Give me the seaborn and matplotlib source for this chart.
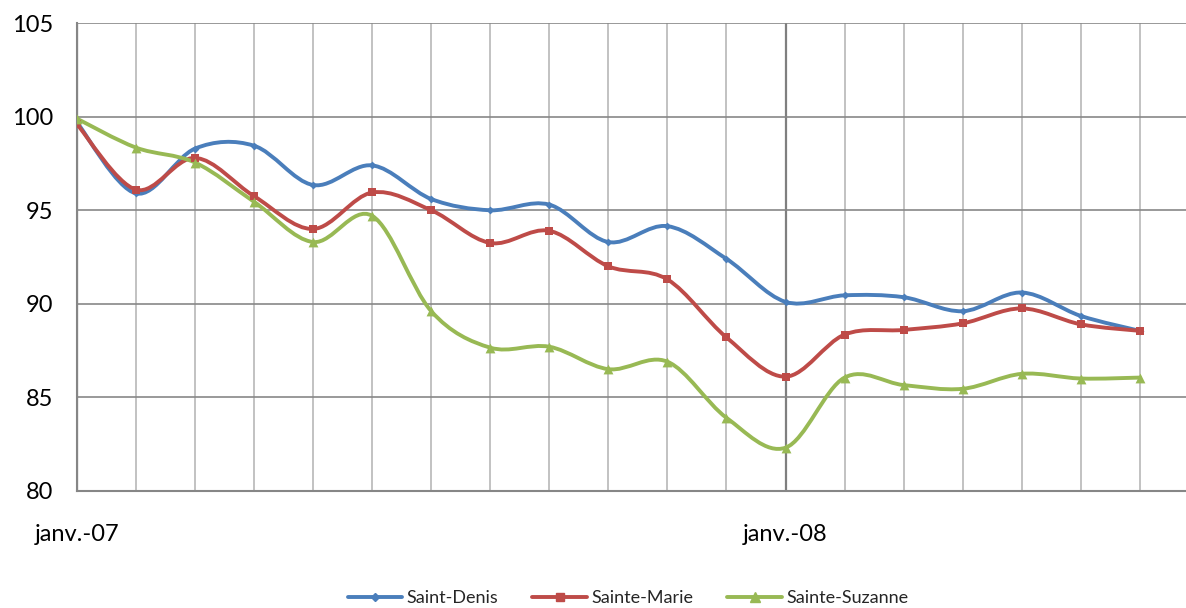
import numpy as np
import pandas as pd
import matplotlib
matplotlib.use("Agg")
import matplotlib.pyplot as plt
from matplotlib.path import Path
from matplotlib.patches import PathPatch
from matplotlib.lines import Line2D
import seaborn as sns

# Monthly index, janv.-07 to juil.-08
months = list(range(19))
tick_pos = [0, 12]
tick_labels = ["janv.-07", "janv.-08"]

saint_denis = [99.7, 95.9, 98.3, 98.45, 96.35, 97.4, 95.6, 95.0, 95.3, 93.3, 94.15,
               92.4, 90.1, 90.45, 90.35, 89.6, 90.6, 89.35, 88.55]
sainte_marie = [99.6, 96.1, 97.8, 95.75, 94.0, 95.95, 95.0, 93.25, 93.9, 92.0, 91.3,
                88.2, 86.1, 88.35, 88.6, 88.95, 89.75, 88.9, 88.55]
sainte_suzanne = [99.9, 98.35, 97.55, 95.45, 93.3, 94.7, 89.6, 87.65, 87.7, 86.5, 86.9,
                  83.9, 82.3, 86.05, 85.65, 85.45, 86.25, 86.0, 86.05]

names = ["Saint-Denis", "Sainte-Marie", "Sainte-Suzanne"]
colors = {"Saint-Denis": "#4A7EBB", "Sainte-Marie": "#BE4B48", "Sainte-Suzanne": "#98B954"}
markers = {"Saint-Denis": "D", "Sainte-Marie": "s", "Sainte-Suzanne": "^"}
msizes = {"Saint-Denis": 16, "Sainte-Marie": 34, "Sainte-Suzanne": 50}

df = pd.DataFrame({
    "mois": months * 3,
    "indice": saint_denis + sainte_marie + sainte_suzanne,
    "commune": [n for n in names for _ in months],
})

sns.set_style("white")
plt.rcParams["font.family"] = ["Lato", "DejaVu Sans"]

fig = plt.figure(figsize=(11.86, 6.08), dpi=100)
ax = fig.add_axes([77 / 1186, 117.3 / 608, 1110 / 1186, 467.4 / 608])


def smooth_path(xs, ys):
    # Excel-style smoothed line: cubic Bezier through every point
    pts = np.column_stack([xs, ys]).astype(float)
    ext = np.vstack([pts[0], pts, pts[-1]])
    verts = [tuple(pts[0])]
    codes = [Path.MOVETO]
    for i in range(len(pts) - 1):
        p0, p1, p2, p3 = ext[i], ext[i + 1], ext[i + 2], ext[i + 3]
        c1 = p1 + (p2 - p0) / 6
        c2 = p2 - (p3 - p1) / 6
        verts += [tuple(c1), tuple(c2), tuple(p2)]
        codes += [Path.CURVE4] * 3
    return Path(verts, codes)


for n in names:
    sub = df[df["commune"] == n]
    ax.add_patch(PathPatch(smooth_path(sub["mois"], sub["indice"]), fill=False,
                           edgecolor=colors[n], lw=2.8, capstyle="round",
                           joinstyle="round", zorder=3))
    sns.scatterplot(data=sub, x="mois", y="indice", color=colors[n], marker=markers[n],
                    s=msizes[n], linewidth=0, ax=ax, zorder=4, legend=False)

ax.set_xlim(0, 18.8)
ax.set_ylim(80, 105)
ax.set_yticks([80, 85, 90, 95, 100, 105])
ax.set_xticks(tick_pos)
ax.set_xticklabels(tick_labels)
ax.set_xticks(months, minor=True)
ax.set_xlabel("")
ax.set_ylabel("")

ax.grid(axis="y", color="#878787", lw=1.2, zorder=0)
ax.grid(axis="x", which="minor", color="#b7b7b7", lw=1.2, zorder=0)
ax.grid(axis="x", which="major", color="#7f7f7f", lw=1.6, zorder=1)
ax.set_axisbelow(True)

for s in ["top", "right"]:
    ax.spines[s].set_visible(False)
for s in ["left", "bottom"]:
    ax.spines[s].set_color("#868686")
    ax.spines[s].set_linewidth(1.5)

ax.tick_params(axis="y", length=0, pad=17, labelsize=17, labelcolor="black")
ax.tick_params(axis="x", which="both", length=0, pad=24, labelsize=17, labelcolor="black")

handles = [Line2D([0], [0], color=colors[n], lw=2.8, marker=markers[n],
                  markersize={"Saint-Denis": 4, "Sainte-Marie": 6, "Sainte-Suzanne": 7}[n])
           for n in names]
fig.legend(handles, names, loc="center", bbox_to_anchor=(628 / 1186, 10 / 608),
           ncol=3, frameon=False, fontsize=13, handlelength=3.0, handletextpad=0.25,
           columnspacing=1.9)

fig.savefig("out.png", dpi=100)
